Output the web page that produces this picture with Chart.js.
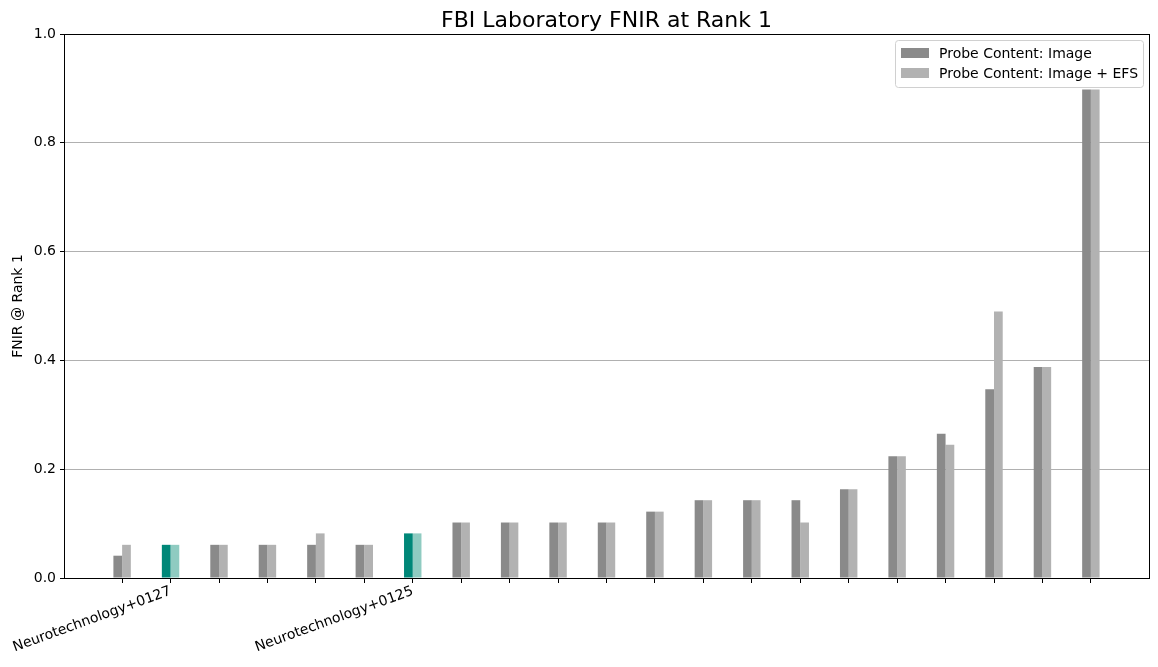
<!DOCTYPE html>
<html>
<head>
<meta charset="utf-8">
<script src="https://cdn.jsdelivr.net/npm/chart.js@4"></script>
<style>
html,body{margin:0;padding:0;background:#fff;}
#wrap{width:1158px;height:667px;position:relative;}
</style>
</head>
<body>
<div id="wrap"><canvas id="c" width="1158" height="667"></canvas></div>
<script>
const title = "FBI Laboratory FNIR at Rank 1";
const yTitle = "FNIR @ Rank 1";
const categories = ["", "Neurotechnology+0127", "", "", "", "", "Neurotechnology+0125", "", "", "", "", "", "", "", "", "", "", "", "", "", ""];
const highlighted = [1, 6];
const seriesNames = ["Probe Content: Image", "Probe Content: Image + EFS"];
const imageFnir = [0.041, 0.061, 0.061, 0.061, 0.061, 0.061, 0.082, 0.102, 0.102, 0.102, 0.102, 0.122, 0.143, 0.143, 0.143, 0.163, 0.224, 0.265, 0.347, 0.388, 0.898];
const efsFnir   = [0.061, 0.061, 0.061, 0.061, 0.082, 0.061, 0.082, 0.102, 0.102, 0.102, 0.102, 0.122, 0.143, 0.143, 0.102, 0.163, 0.224, 0.245, 0.490, 0.388, 0.898];
const yTicks = [0, 0.2, 0.4, 0.6, 0.8, 1.0];

const FONT = "'DejaVu Sans', sans-serif";
const baseColors = ["#8a8a8a", "#b2b2b2"];
const hiColors = ["#008778", "#8fcbc1"];

function colorsFor(ds) {
  return categories.map((_, i) => highlighted.includes(i) ? hiColors[ds] : baseColors[ds]);
}

const frame = {
  id: 'frame',
  afterDraw(chart) {
    const {ctx, chartArea: a} = chart;
    ctx.save();
    ctx.strokeStyle = '#000';
    ctx.lineWidth = 1;
    ctx.strokeRect(Math.round(a.left) + 0.5, Math.round(a.top) + 0.5, Math.round(a.right - a.left), Math.round(a.bottom - a.top));
    // title
    ctx.fillStyle = '#000';
    ctx.font = "22px " + FONT;
    ctx.textAlign = 'center';
    ctx.textBaseline = 'alphabetic';
    ctx.fillText(title, (a.left + a.right) / 2, 27);
    // legend
    const lx = a.right - 254, ly = a.top + 6, lw = 248, lh = 47;
    ctx.fillStyle = 'rgba(255,255,255,0.8)';
    ctx.strokeStyle = '#d0d0d0';
    ctx.beginPath();
    ctx.roundRect(lx + 0.5, ly + 0.5, lw, lh, 3);
    ctx.fill();
    ctx.stroke();
    ctx.font = "14px " + FONT;
    ctx.textAlign = 'left';
    ctx.textBaseline = 'middle';
    seriesNames.forEach((n, i) => {
      const cy = ly + 13 + i * 20;
      ctx.fillStyle = baseColors[i];
      ctx.fillRect(lx + 6, cy - 5, 28, 10);
      ctx.fillStyle = '#000';
      ctx.fillText(n, lx + 44, cy + 1);
    });
    ctx.restore();
  }
};

new Chart(document.getElementById('c'), {
  type: 'bar',
  data: {
    datasets: [
      { label: seriesNames[0], data: imageFnir.map((v, i) => ({x: i, y: v})), backgroundColor: colorsFor(0), categoryPercentage: 0.36, barPercentage: 1.0 },
      { label: seriesNames[1], data: efsFnir.map((v, i) => ({x: i, y: v})), backgroundColor: colorsFor(1), categoryPercentage: 0.36, barPercentage: 1.0 }
    ]
  },
  options: {
    responsive: false,
    animation: false,
    devicePixelRatio: 1,
    layout: { padding: { top: 34, right: 9, left: 0, bottom: 0 } },
    plugins: { legend: { display: false }, title: { display: false }, tooltip: { enabled: false } },
    scales: {
      x: {
        type: 'linear',
        min: -1.2,
        max: 21.2,
        offset: false,
        afterBuildTicks(scale) { scale.ticks = categories.map((_, i) => ({value: i})); },
        afterFit(scale) { scale.height = 89; },
        ticks: {
          autoSkip: false,
          minRotation: 20,
          maxRotation: 20,
          padding: 0,
          color: '#000',
          font: { family: FONT, size: 14 },
          callback: (v) => categories[v] ?? ''
        },
        grid: { display: true, drawOnChartArea: false, offset: false, tickLength: 5, tickColor: '#000' },
        border: { color: '#000', width: 1 }
      },
      y: {
        min: 0,
        max: 1,
        afterBuildTicks(scale) { scale.ticks = yTicks.map(v => ({value: v})); },
        afterFit(scale) { scale.width = 64; },
        ticks: {
          color: '#000',
          padding: 4,
          font: { family: FONT, size: 14 },
          callback: (v) => Number(v).toFixed(1)
        },
        grid: { color: '#b0b0b0', lineWidth: 1, tickLength: 4, tickColor: '#000' },
        border: { color: '#000', width: 1 },
        title: { display: true, text: yTitle, color: '#000', font: { family: FONT, size: 14 }, padding: { top: 10, bottom: 8 } }
      }
    }
  },
  plugins: [frame]
});
</script>
</body>
</html>
